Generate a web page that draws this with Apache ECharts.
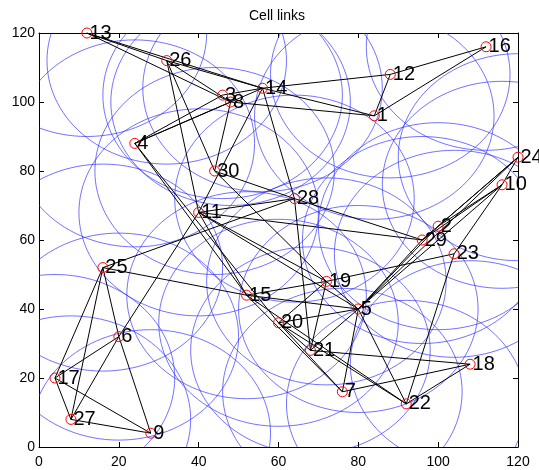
<!DOCTYPE html>
<html><head><meta charset="utf-8">
<script src="https://cdn.jsdelivr.net/npm/echarts@6/dist/echarts.min.js"></script>
<style>html,body{margin:0;padding:0;background:#fff}#c{width:539px;height:470px}</style>
</head><body><div id="c"></div>
<script>
// node ids and positions
const nodeIds = [1,2,3,4,5,6,7,8,9,10,11,12,13,14,15,16,17,18,19,20,21,22,23,24,25,26,27,28,29,30];
const nodeX = [84,100,46,24,80,20,76,48,28,116,40,88,12,56,52,112,4,108,72,60,68,92,104,120,16,32,8,64,96,44];
const nodeY = [96,64,102,88,40,32,16,100,4,76,68,108,120,104,44,116,20,24,48,36,28,12.5,56,84,52,112,8,72,60,80];
// cell radius (coverage circle around each node)
const cellRadius = [30,30,30,30,30,30,30,30,30,30,30,30,30,30,30,30,30,30,30,30,30,30,30,30,30,30,30,30,30,30];
// links between nodes (by id)
const linkFrom = [13,13,13,26,26,26,26,4,4,4,3,14,14,8,12,12,1,8,14,14,4,4,30,30,11,11,11,11,11,11,28,28,25,25,25,25,25,6,6,6,17,17,27,15,15,15,15,19,19,19,19,20,20,20,20,21,21,5,5,5,5,5,5,7,22,22,29,29,29,2,2,23,10];
const linkTo   = [26,14,8,14,8,30,11,3,8,14,14,12,1,1,1,16,16,30,11,28,15,20,28,19,28,29,19,5,15,6,29,21,28,15,6,17,27,17,27,9,27,9,9,19,5,7,22,5,20,21,23,5,21,7,22,5,18,7,22,29,2,10,24,18,18,23,2,10,24,10,24,10,24];
const xTicks = [0,20,40,60,80,100,120];
const yTicks = [0,20,40,60,80,100,120];
const titleText = 'Cell links';

const idx = id => nodeIds.indexOf(id);
const circleData = nodeIds.map((id,i)=>[nodeX[i],nodeY[i],cellRadius[i]]);
const linkData = linkFrom.map((a,k)=>({coords:[[nodeX[idx(a)],nodeY[idx(a)]],[nodeX[idx(linkTo[k])],nodeY[idx(linkTo[k])]]]}));
const nodeData = nodeIds.map((id,i)=>({value:[nodeX[i],nodeY[i]], name:String(id)}));

const chart = echarts.init(document.getElementById('c'), null, {renderer:'canvas'});
const FONT = 'Liberation Sans, Arial, sans-serif';
const axisCommon = {
  type:'value', min:xTicks[0], max:xTicks[xTicks.length-1], interval:20,
  axisLine:{show:true, onZero:false, lineStyle:{color:'#000', width:1}},
  axisTick:{show:true, inside:true, length:5, lineStyle:{color:'#000'}},
  splitLine:{show:false},
  axisLabel:{color:'#000', fontSize:14, fontFamily:FONT}
};
chart.setOption({
  animation:false,
  backgroundColor:'#fff',
  graphic:[{type:'text', x:277, y:9, silent:true,
    style:{text:titleText, textAlign:'center', textVerticalAlign:'top', fontSize:14, fontFamily:FONT, fill:'#000'}}],
  grid:{left:39, right:21, top:33, bottom:23},
  xAxis:[
    Object.assign({}, axisCommon, {position:'bottom', axisLabel:Object.assign({}, axisCommon.axisLabel, {margin:8})}),
    Object.assign({}, axisCommon, {position:'top', axisLabel:{show:false}})
  ],
  yAxis:[
    Object.assign({}, axisCommon, {min:yTicks[0], max:yTicks[yTicks.length-1], position:'left', axisLabel:Object.assign({}, axisCommon.axisLabel, {margin:4})}),
    Object.assign({}, axisCommon, {min:yTicks[0], max:yTicks[yTicks.length-1], position:'right', axisLabel:{show:false}})
  ],
  series:[
    {
      type:'custom', coordinateSystem:'cartesian2d', clip:true, silent:true,
      data:circleData,
      renderItem:function(params, api){
        const cx = api.value(0), cy = api.value(1), r = api.value(2);
        const pts = [];
        for(let t=0;t<=120;t++){
          const a = t/120*Math.PI*2;
          pts.push(api.coord([cx + r*Math.cos(a), cy + r*Math.sin(a)]));
        }
        return {type:'polyline', shape:{points:pts}, style:{stroke:'rgba(40,40,255,0.65)', lineWidth:1, fill:null}};
      }
    },
    {
      type:'lines', coordinateSystem:'cartesian2d', silent:true,
      lineStyle:{color:'#000', width:1, opacity:1},
      data:linkData
    },
    {
      type:'scatter', silent:true,
      symbol:'circle', symbolSize:10,
      itemStyle:{color:'rgba(0,0,0,0)', borderColor:'#ff0000', borderWidth:1, opacity:1},
      label:{show:true, position:'right', distance:-3, formatter:p=>p.name,
        color:'#000', fontSize:20, fontFamily:FONT},
      data:nodeData, z:5
    }
  ]
});
</script>
</body></html>
